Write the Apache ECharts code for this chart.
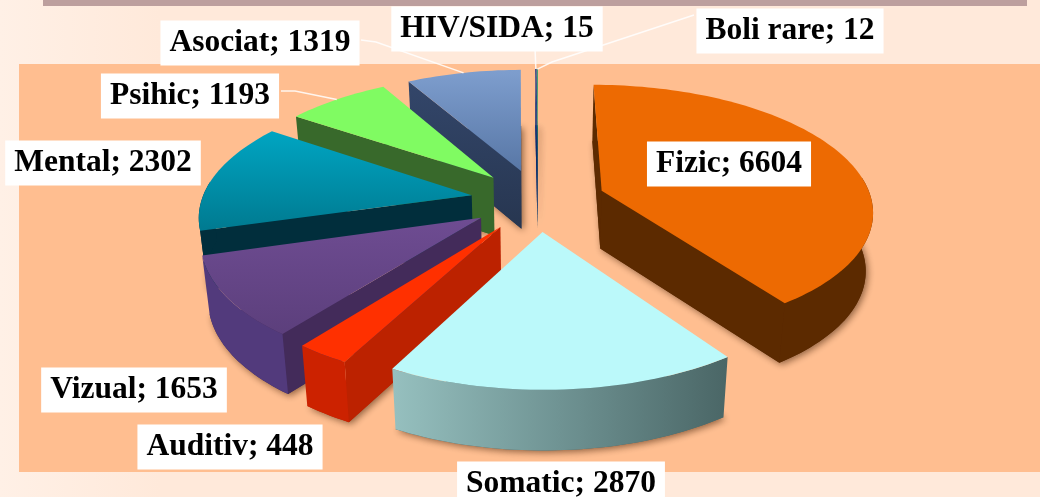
<!DOCTYPE html>
<html><head><meta charset="utf-8">
<style>html,body{margin:0;padding:0;background:#FFE9DA;overflow:hidden}#c{width:1040px;height:497px}</style>
<script src="https://cdn.jsdelivr.net/npm/echarts@6/dist/echarts.min.js"></script>
</head><body><div id="c"></div>
<script>
const categories = ['Fizic','Somatic','Auditiv','Vizual','Mental','Psihic','Asociat','HIV/SIDA','Boli rare'];
const values = [6604,2870,448,1653,2302,1193,1319,15,12];
const topColors = ['#ED6A02','#BBF9FA','#FF3000',['#6E4C92','#5C3F7C'],['#00A5C2','#007A90'],'#80FB62',['#7E9ECE','#5877A6'],'#0A2F8A','#2E9A6A'];
const rimColors = ['#5C2A00',['#96C0BF','#6F9393','#4A6666'],'#CC2200','#523A7C','#012E3C','#38692B','#2F4060','#0A2A70','#0A5A60'];
const edgeColors = ['#5C2A00','#4A6666','#BC2200','#432B5A','#012E3C','#38692B',['#33466A','#273650'],'#0A2A70','#0A5A60'];
const labelCenters = [[729,164],[561,484],[230,447],[134,390],[103,163],[190,96],[260,43],[497,29],[790,31]];
const leaderStarts = [null,null,null,null,null,[[281,91],[295,91]],[[361,40],[376,42]],[[535,48]],[[694,15],[552,62]]];

const cx=538, cy=200, A=270, B=124, K=0.147, EXPLODE=0.25;
const total = values.reduce((a,b)=>a+b,0);
const starts = []; let acc = 0;
values.forEach(v=>{starts.push(acc/total*Math.PI*2); acc+=v;});

function project(u,v){const s=1/(1-K*v);return [cx+A*u*s, cy+B*v*s, s];}
function lower(p){return [cx+(p[0]-cx)*0.978, p[1]+46+12*p[2]];}
function fillOf(c,dir){
  if(!Array.isArray(c)) return c;
  const stops=c.map((col,i)=>({offset:i/(c.length-1),color:col}));
  return dir==='h'?new echarts.graphic.LinearGradient(0,0,1,0,stops):new echarts.graphic.LinearGradient(0,0,0,1,stops);
}
const shadow={shadowBlur:7,shadowColor:'rgba(70,35,10,0.6)',shadowOffsetX:2,shadowOffsetY:2};

function renderSlice(i,val){
  const a0=starts[i], a1=a0+val/total*Math.PI*2, m=(a0+a1)/2;
  const ox=EXPLODE*Math.sin(m), oy=-EXPLODE*Math.cos(m);
  const pt=(a,r)=>project(ox+r*Math.sin(a),oy-r*Math.cos(a));
  const apex=pt(0,0);
  const n=Math.max(2,Math.ceil((a1-a0)/(Math.PI/120)));
  const angles=[];for(let k=0;k<=n;k++)angles.push(a0+(a1-a0)*k/n);
  const rim=angles.map(a=>pt(a,1));
  const xy=p=>[p[0],p[1]];
  const low=p=>lower(p);
  const children=[];
  // the base casts the soft shadow
  children.push({type:'polygon',shape:{points:[low(apex)].concat(rim.map(low))},style:Object.assign({fill:fillOf(edgeColors[i],'v')},shadow)});
  // radial faces that look towards the viewer
  const quad=r=>[xy(apex),xy(r),low(r),low(apex)];
  if(Math.sin(a0)<=1e-6) children.push({type:'polygon',shape:{points:quad(rim[0])},style:{fill:fillOf(edgeColors[i],'v')}});
  if(Math.sin(a1)>1e-6) children.push({type:'polygon',shape:{points:quad(rim[n])},style:{fill:fillOf(edgeColors[i],'v')}});
  // outer wall, near part of the rim only
  const near=rim.filter((p,k)=>-Math.cos(angles[k])>-0.12);
  if(near.length>1){
    const outer=near.map(xy).concat(near.slice().reverse().map(low));
    children.push({type:'polygon',shape:{points:outer},style:{fill:fillOf(rimColors[i],'h')}});
  }
  children.push({type:'polygon',shape:{points:[xy(apex)].concat(rim.map(xy))},style:{fill:fillOf(topColors[i],'v')}});
  return {type:'group',children};
}
function renderOverlay(params,api){
  const i=params.dataIndex, val=api.value(0);
  const a0=starts[i], a1=a0+val/total*Math.PI*2, m=(a0+a1)/2;
  const ox=EXPLODE*Math.sin(m), oy=-EXPLODE*Math.cos(m);
  const children=[];
  if(leaderStarts[i]){
    const end=project(ox+Math.sin(m),oy-Math.cos(m));
    children.push({type:'polyline',shape:{points:leaderStarts[i].concat([[end[0],end[1]]])},style:{stroke:'rgba(255,255,255,0.85)',lineWidth:1.5,fill:null}});
  }
  children.push({type:'text',x:labelCenters[i][0],y:labelCenters[i][1],style:{
    text:categories[i]+'; '+val,font:'bold 31.5px "Liberation Serif"',fill:'#000',align:'center',verticalAlign:'middle',
    backgroundColor:'#fff',padding:[9,9,4,9]}});
  return {type:'group',children};
}
// paint slices from the far side to the near side
const order = values.map((v,i)=>i).sort((p,q)=>{
  const mid=i=>starts[i]+values[i]/total*Math.PI;
  return -Math.cos(mid(p))- -Math.cos(mid(q));
});
const chart=echarts.init(document.getElementById('c'),null,{renderer:'canvas'});
const rows=categories.map((c,i)=>({name:c,value:[values[i]]}));
chart.setOption({
  animation:false,
  backgroundColor:'#FFE9DA',
  graphic:{elements:[
    {type:'rect',z:-2,shape:{x:0,y:0,width:160,height:497},style:{fill:new echarts.graphic.LinearGradient(0,0,1,0,[{offset:0,color:'#FFF0E6'},{offset:1,color:'#FFE9DA'}])}},
    {type:'rect',z:-2,shape:{x:43,y:0,width:984,height:6},style:{fill:'#BD9F9E'}},
    {type:'rect',z:-1,shape:{x:19,y:64,width:1021,height:408},style:{fill:'#FFBE90'}}
  ]},
  series:[
    {type:'custom',coordinateSystem:'none',silent:true,z:2,renderItem:(p)=>renderSlice(order[p.dataIndex],values[order[p.dataIndex]]),encode:{value:0},data:rows},
    {type:'custom',coordinateSystem:'none',silent:true,z:3,renderItem:renderOverlay,encode:{value:0},data:rows}
  ]
});
</script></body></html>
